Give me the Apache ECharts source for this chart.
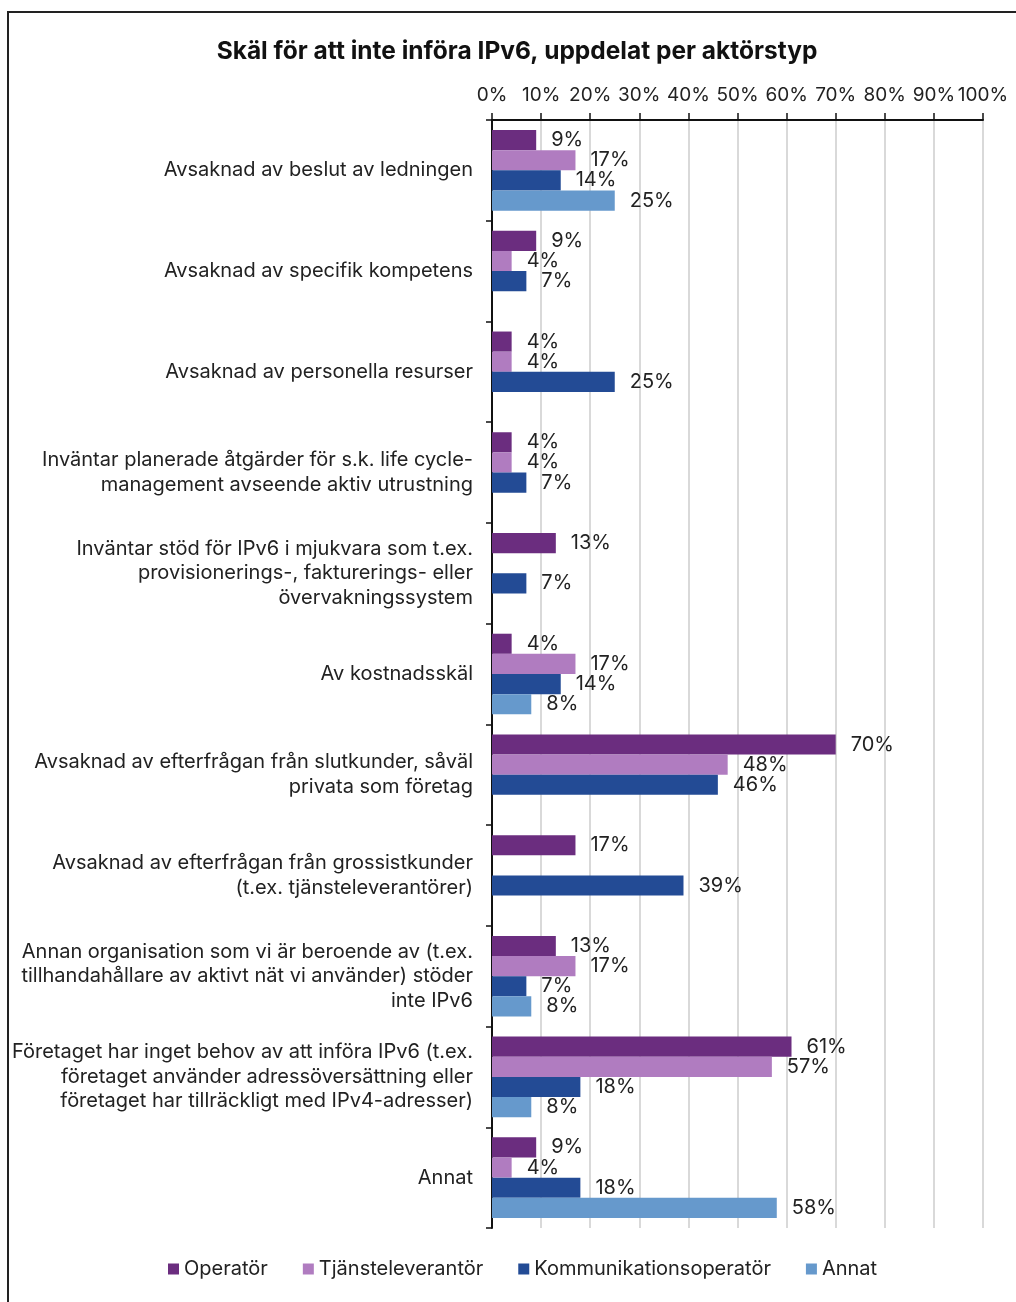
<!DOCTYPE html>
<html><head><meta charset="utf-8">
<script src="https://cdn.jsdelivr.net/npm/echarts@6/dist/echarts.min.js"></script>
<style>html,body{margin:0;padding:0;background:#fff}#c{width:1016px;height:1302px}</style>
</head><body><div id="c"></div>
<script>
const categories = [
  "Avsaknad av beslut av ledningen",
  "Avsaknad av specifik kompetens",
  "Avsaknad av personella resurser",
  "Inväntar planerade åtgärder för s.k. life cycle-\nmanagement avseende aktiv utrustning",
  "Inväntar stöd för IPv6 i mjukvara som t.ex.\nprovisionerings-, fakturerings- eller\növervakningssystem",
  "Av kostnadsskäl",
  "Avsaknad av efterfrågan från slutkunder, såväl\nprivata som företag",
  "Avsaknad av efterfrågan från grossistkunder\n(t.ex. tjänsteleverantörer)",
  "Annan organisation som vi är beroende av (t.ex.\ntillhandahållare av aktivt nät vi använder) stöder\ninte IPv6",
  "Företaget har inget behov av att införa IPv6 (t.ex.\nföretaget använder adressöversättning eller\nföretaget har tillräckligt med IPv4-adresser)",
  "Annat"
];
const operator = [9, 9, 4, 4, 13, 4, 70, 17, 13, 61, 9];
const tjansteleverantor = [17, 4, 4, 4, null, 17, 48, null, 17, 57, 4];
const kommunikationsoperator = [14, 7, 25, 7, 7, 14, 46, 39, 7, 18, 18];
const annat = [25, null, null, null, null, 8, null, null, 8, 8, 58];
const seriesNames = ["Operatör", "Tjänsteleverantör", "Kommunikationsoperatör", "Annat"];
const xTicks = [0, 100, 10];

const FONT = "Inter";
const colors = ["#6B2D7F", "#B07CC0", "#234B95", "#6699CC"];
const dataSets = [operator, tjansteleverantor, kommunikationsoperator, annat];

const chart = echarts.init(document.getElementById('c'), null, {renderer: 'canvas'});
chart.setOption({
  animation: false,
  textStyle: {fontFamily: FONT},
  color: colors,
  title: {
    text: "Skäl för att inte införa IPv6, uppdelat per aktörstyp",
    left: 512, top: 34, textAlign: 'center',
    textStyle: {fontFamily: FONT, fontSize: 24.5, fontWeight: 'bold', color: '#111'}
  },
  graphic: [{
    type: 'rect', shape: {x: 8, y: 12, width: 1200, height: 1400},
    style: {fill: 'none', stroke: '#222', lineWidth: 2}, silent: true
  }],
  legend: {
    bottom: 18, left: 163, itemWidth: 11, itemHeight: 11, itemGap: 35,
    icon: 'rect',
    textStyle: {fontFamily: FONT, fontSize: 20, color: '#222'},
    data: seriesNames
  },
  grid: {left: 492, right: 33, top: 120, bottom: 74, containLabel: false},
  xAxis: {
    type: 'value', position: 'top', min: xTicks[0], max: xTicks[1], interval: xTicks[2],
    axisLine: {show: true, lineStyle: {color: '#111', width: 2}},
    axisTick: {show: true, length: 7, lineStyle: {color: '#111', width: 1.5}},
    axisLabel: {formatter: '{value}%', fontSize: 19, color: '#222', margin: 15, fontFamily: FONT},
    splitLine: {show: true, lineStyle: {color: '#D9D9D9', width: 2}}
  },
  yAxis: {
    type: 'category', inverse: true, data: categories,
    axisLine: {show: true, lineStyle: {color: '#111', width: 2}},
    axisTick: {show: true, length: 6, lineStyle: {color: '#111', width: 1.5}},
    axisLabel: {fontSize: 20, color: '#222', margin: 19, lineHeight: 24.5, align: 'right', fontFamily: FONT}
  },
  series: dataSets.map((d, i) => ({
    name: seriesNames[i], type: 'bar', data: d,
    barGap: '0%', barCategoryGap: '20%',
    itemStyle: {color: colors[i]},
    label: {show: true, position: 'right', distance: 15, formatter: '{c}%', fontSize: 20, color: '#222', fontFamily: FONT}
  }))
});
</script></body></html>
